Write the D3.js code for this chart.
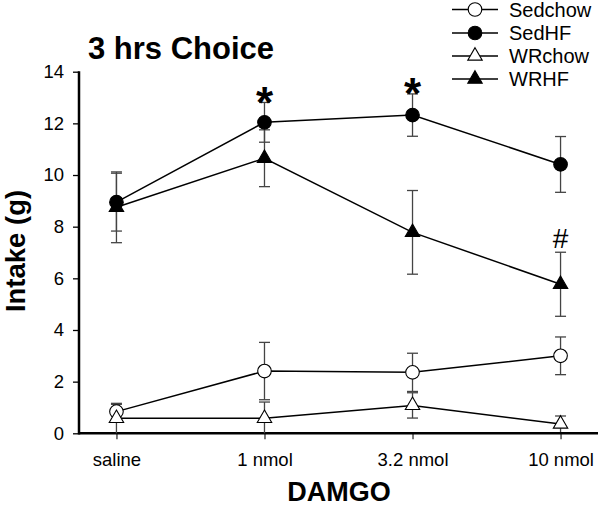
<!DOCTYPE html>
<html><head><meta charset="utf-8">
<script src="https://cdn.jsdelivr.net/npm/d3@7"></script>
<style>
html,body{margin:0;padding:0;background:#fff;}
svg{display:block;font-family:"Liberation Sans",Arial,Helvetica,sans-serif;}
</style></head>
<body>
<svg id="chart" width="600" height="513"></svg>
<script>
const categories = ["saline", "1 nmol", "3.2 nmol", "10 nmol"];
const yTicks = [0, 2, 4, 6, 8, 10, 12, 14];
const seriesNames = ["Sedchow", "SedHF", "WRchow", "WRHF"];
const sedchow = [0.84, 2.41, 2.36, 3.0];
const sedchowErr = [0.28, 1.11, 0.74, 0.73];
const sedHF = [8.95, 12.04, 12.32, 10.41];
const sedHFErr = [1.12, 0.77, 0.82, 1.08];
const wrchow = [0.58, 0.58, 1.08, 0.36];
const wrchowErr = [0.58, 0.63, 0.49, 0.31];
const wrHF = [8.75, 10.65, 7.78, 5.77];
const wrHFErr = [1.37, 1.1, 1.62, 1.24];
const annotations = [
  {cat: "1 nmol", text: "*", value: 12.8},
  {cat: "3.2 nmol", text: "*", value: 13.14},
  {cat: "10 nmol", text: "#", value: 7.0}
];

const series = [
  {name: seriesNames[0], vals: sedchow, err: sedchowErr, shape: "circle", filled: false},
  {name: seriesNames[1], vals: sedHF, err: sedHFErr, shape: "circle", filled: true},
  {name: seriesNames[2], vals: wrchow, err: wrchowErr, shape: "triangle", filled: false},
  {name: seriesNames[3], vals: wrHF, err: wrHFErr, shape: "triangle", filled: true}
];

const svg = d3.select("#chart");
const mLeft = 79, mRight = 598, mTop = 71.7, mBottom = 433.3;

const x = d3.scalePoint().domain(categories).range([mLeft, mRight]).padding(0.253);
const y = d3.scaleLinear().domain([0, 14]).range([mBottom, mTop]);

// title
svg.append("text").attr("x", 88).attr("y", 59)
  .attr("font-size", 31).attr("font-weight", "bold").text("3 hrs Choice");

// axis titles
svg.append("text").attr("transform", "translate(25,251) rotate(-90)")
  .attr("text-anchor", "middle").attr("font-size", 27.5).attr("font-weight", "bold").text("Intake (g)");
svg.append("text").attr("x", 339).attr("y", 501)
  .attr("text-anchor", "middle").attr("font-size", 27).attr("font-weight", "bold").text("DAMGO");

// y axis
const yAxis = d3.axisLeft(y).tickValues(yTicks).tickSize(6).tickPadding(9).tickFormat(d3.format("d"));
const gy = svg.append("g").attr("transform", `translate(${mLeft},0)`).call(yAxis);
gy.select(".domain").remove();
gy.selectAll(".tick line").attr("stroke", "#000").attr("stroke-width", 1.3);
gy.selectAll(".tick text").attr("font-size", 18.5).attr("font-family", "Liberation Sans, Arial, sans-serif").attr("fill", "#000");

// x axis
const xAxis = d3.axisBottom(x).tickSize(6).tickPadding(14);
const gx = svg.append("g").attr("transform", `translate(0,${mBottom})`).call(xAxis);
gx.select(".domain").remove();
gx.selectAll(".tick line").attr("stroke", "#333").attr("stroke-width", 1.3);
gx.selectAll(".tick text").attr("font-size", 18.5).attr("font-family", "Liberation Sans, Arial, sans-serif").attr("fill", "#000");

// axis lines
svg.append("line").attr("x1", mLeft).attr("x2", mLeft).attr("y1", mTop - 0.5).attr("y2", mBottom + 1.2)
  .attr("stroke", "#000").attr("stroke-width", 2.5);
svg.append("line").attr("x1", mLeft).attr("x2", mRight).attr("y1", mBottom).attr("y2", mBottom)
  .attr("stroke", "#000").attr("stroke-width", 2.5);

const plot = svg.append("g");
const capW = 5.5;

// error bars
series.forEach(s => {
  const g = plot.append("g");
  s.vals.forEach((v, i) => {
    const cx = x(categories[i]);
    const hi = v + s.err[i];
    const lo = Math.max(0, v - s.err[i]);
    g.append("line").attr("x1", cx).attr("x2", cx).attr("y1", y(hi)).attr("y2", y(lo))
      .attr("stroke", "#444").attr("stroke-width", 1.3);
    g.append("line").attr("x1", cx - capW).attr("x2", cx + capW).attr("y1", y(hi)).attr("y2", y(hi))
      .attr("stroke", "#444").attr("stroke-width", 1.3);
    if (v - s.err[i] > 0.05) {
      g.append("line").attr("x1", cx - capW).attr("x2", cx + capW).attr("y1", y(lo)).attr("y2", y(lo))
        .attr("stroke", "#444").attr("stroke-width", 1.3);
    }
  });
});

// lines
const line = d3.line().x((d, i) => x(categories[i])).y(d => y(d));
series.forEach(s => {
  plot.append("path").attr("d", line(s.vals)).attr("fill", "none")
    .attr("stroke", "#000").attr("stroke-width", 1.5);
});

const circleSym = d3.symbol().type(d3.symbolCircle).size(145);
const triSym = d3.symbol().type(d3.symbolTriangle).size(90);

function marker(g, s, cx, cy) {
  return g.append("path")
    .attr("d", s.shape === "circle" ? circleSym() : triSym())
    .attr("transform", `translate(${cx},${cy})`)
    .attr("fill", s.filled ? "#000" : "#fff")
    .attr("stroke", "#000").attr("stroke-width", 1.1);
}

// markers
series.forEach(s => {
  s.vals.forEach((v, i) => marker(plot, s, x(categories[i]), y(v)));
});

// annotations
annotations.forEach(a => {
  const t = svg.append("text").attr("x", x(a.cat)).attr("text-anchor", "middle").attr("fill", "#000").text(a.text);
  if (a.text === "*") {
    t.attr("font-size", 44).attr("font-weight", "bold").attr("y", y(a.value) + 15);
  } else {
    t.attr("font-size", 28).attr("y", y(a.value) - 5);
  }
});

// legend
const legend = svg.append("g");
const legY = [9.5, 33, 56, 79];
series.forEach((s, i) => {
  const ly = legY[i];
  legend.append("line").attr("x1", 452).attr("x2", 498).attr("y1", ly).attr("y2", ly)
    .attr("stroke", "#000").attr("stroke-width", 1.5);
  marker(legend, s, 475, ly);
  legend.append("text").attr("x", 509).attr("y", ly + 7).attr("font-size", 20).attr("fill", "#000").text(s.name);
});
</script>
</body></html>
